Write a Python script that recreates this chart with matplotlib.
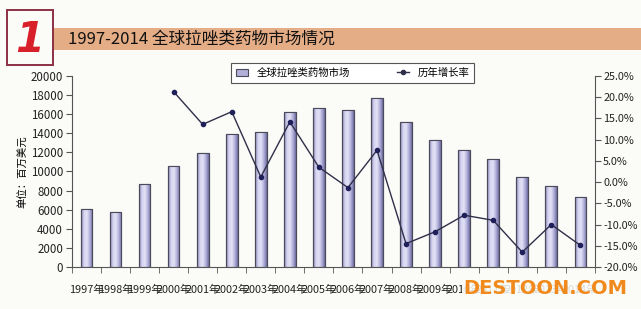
import matplotlib.pyplot as plt
import numpy as np
from matplotlib.colors import LinearSegmentedColormap
from matplotlib.patches import Rectangle
from matplotlib.lines import Line2D

plt.rcParams['font.family'] = ['Noto Sans CJK SC', 'DejaVu Sans']

years = ['1997年', '1998年', '1999年', '2000年', '2001年', '2002年', '2003年', '2004年', '2005年',
         '2006年', '2007年', '2008年', '2009年', '2010年', '2011年', '2012年', '2013年', '2014年']
market = [6100, 5800, 8650, 10550, 11950, 13950, 14100, 16200, 16700,
          16450, 17700, 15200, 13350, 12300, 11300, 9450, 8450, 7300]
growth_years = years[3:]
growth = [21.3, 13.6, 16.6, 1.2, 14.2, 3.5, -1.3, 7.5, -14.5,
          -11.7, -7.8, -9.0, -16.5, -10.0, -14.9]

bg = '#fbfbf8'
fig = plt.figure(figsize=(6.41, 3.09), dpi=100, facecolor=bg)
ax = fig.add_axes([0.1123, 0.136, 0.8157, 0.618], facecolor=bg)

x = np.arange(len(years))
width = 0.4
bars = ax.bar(x, market, width, color='#b2b0da', edgecolor='#4a4a5a', linewidth=0.8, zorder=2)

# cylinder-like shading on each bar
cmap = LinearSegmentedColormap.from_list('cyl', ['#7f7db0', '#d6d4f0', '#e4e2f6', '#b2b0da', '#6f6da0'])
grad = np.linspace(0, 1, 64).reshape(1, -1)
for b in bars:
    im = ax.imshow(grad, extent=[b.get_x(), b.get_x() + b.get_width(), 0, b.get_height()],
                   aspect='auto', cmap=cmap, zorder=2.5)
    im.set_clip_path(b)
    ax.add_patch(Rectangle((b.get_x(), 0), b.get_width(), b.get_height(), fill=False,
                           edgecolor='#4a4a5a', linewidth=0.8, zorder=3))

ax.set_xlim(-0.5, len(years) - 0.5)
ax.set_ylim(0, 20000)
ax.set_yticks(np.arange(0, 20001, 2000))
ax.set_xticks(x, years)
ax.set_xticks(np.arange(-0.5, len(years), 1), minor=True)
ax.tick_params(axis='x', which='major', length=0, pad=13, labelsize=7.8, colors='#222222')
ax.tick_params(axis='x', which='minor', length=4, color='#555555')
ax.tick_params(axis='y', length=4, pad=2.5, labelsize=8.3, colors='#222222', color='#555555')
for s in ['top', 'right']:
    ax.spines[s].set_visible(False)
for s in ['left', 'bottom']:
    ax.spines[s].set_color('#555555')
ax.set_ylabel('单位：百万美元', fontsize=7.5, labelpad=2)

ax2 = ax.twinx()
gx = x[3:]
ax2.plot(gx, growth, color='#2f2f4a', linewidth=1.0, marker='o', markersize=3,
         markerfacecolor='#1f1f5a', markeredgecolor='#1f1f5a', zorder=4)
ax2.set_ylim(-20, 25)
ax2.set_yticks(np.arange(-20, 25.1, 5))
ax2.set_yticklabels([f'{v:.1f}%' for v in np.arange(-20, 25.1, 5)])
ax2.tick_params(axis='y', length=4, pad=2, labelsize=7.8, colors='#222222', color='#555555')
for s in ['top', 'left', 'bottom']:
    ax2.spines[s].set_visible(False)
ax2.spines['right'].set_color('#555555')

handles = [Rectangle((0, 0), 1, 1, facecolor='#b2b0da', edgecolor='#4a4a5a', linewidth=0.8),
           Line2D([], [], color='#2f2f4a', marker='o', markersize=3, linewidth=1.0)]
leg = fig.legend(handles, ['全球拉唑类药物市场', '历年增长率'], ncol=2, loc='center',
                 bbox_to_anchor=(0.55, 0.764), fontsize=7.5, frameon=True, fancybox=False,
                 edgecolor='#555555', framealpha=1, handlelength=1.2, handleheight=0.7,
                 columnspacing=4.5, borderpad=0.45)
leg.get_frame().set_linewidth(0.8)

# title band and number box
fig.patches.append(Rectangle((53 / 641, 1 - 50 / 309), 588 / 641, 22 / 309, transform=fig.transFigure,
                             facecolor='#e5ad86', edgecolor='none'))
fig.patches.append(Rectangle((7 / 641, 1 - 65 / 309), 46 / 641, 55 / 309, transform=fig.transFigure,
                             facecolor=bg, edgecolor='#8c3044', linewidth=1.4))
fig.text(30 / 641, 1 - 40 / 309, '1', color='#d8202a', fontsize=30, fontweight='bold', style='italic',
         ha='center', va='center', family='DejaVu Sans')
fig.text(68 / 641, 1 - 39 / 309, '1997-2014 全球拉唑类药物市场情况', fontsize=12, color='#111111',
         ha='left', va='center')

# watermark
fig.text(627 / 641, 1 - 288 / 309, 'DESTOON.COM', fontsize=14, fontweight='bold', color='#f08a1c',
         ha='right', va='center', family='DejaVu Sans',
         bbox=dict(facecolor=bg, edgecolor='none', pad=1, alpha=0.85))

plt.savefig('out.png', dpi=100, facecolor=bg)
